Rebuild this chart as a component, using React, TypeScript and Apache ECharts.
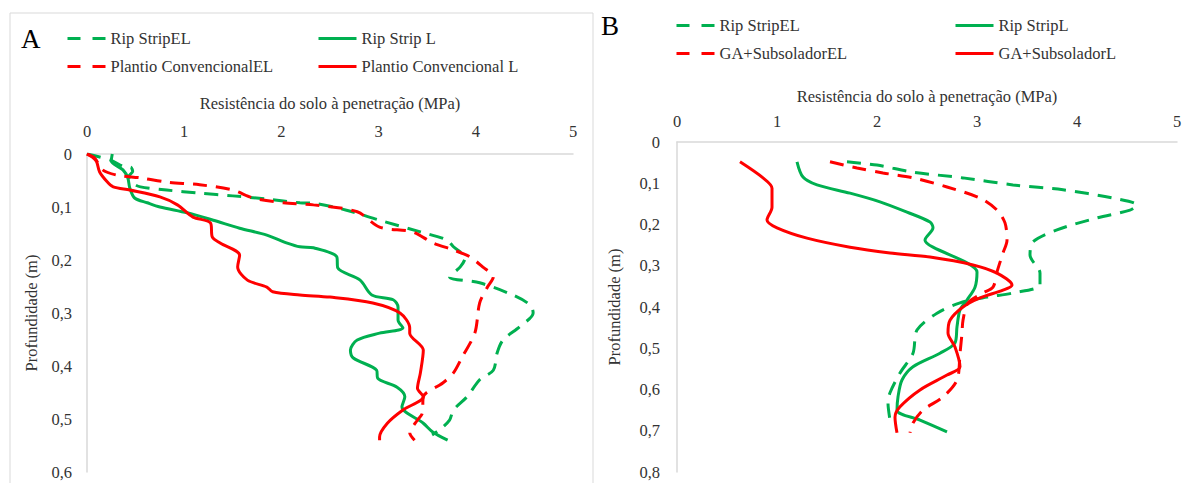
import React, { useEffect, useRef } from "react";
import * as echarts from "echarts";

// Panel A series: [resistance (MPa), depth (m)]
const ripStripEL_A: [number, number][] = [
  [0, 0], [0.25, 0.012], [0.38, 0.024], [0.45, 0.025], [0.47, 0.033], [0.43, 0.042], [0.47, 0.055],
  [0.55, 0.062], [0.82, 0.068], [1.16, 0.074], [1.5, 0.079], [1.85, 0.085], [2.19, 0.092], [2.33, 0.093],
  [2.67, 0.106], [3.01, 0.125], [3.43, 0.147], [3.7, 0.162], [3.77, 0.175], [3.89, 0.196], [3.84, 0.213],
  [3.73, 0.232], [4.04, 0.243], [4.38, 0.266], [4.56, 0.285], [4.59, 0.3], [4.45, 0.326], [4.28, 0.351],
  [4.22, 0.375], [4.18, 0.408], [4.04, 0.426], [3.91, 0.458], [3.77, 0.483], [3.73, 0.502], [3.63, 0.52],
  [3.55, 0.53],
];
const ripStripL_A: [number, number][] = [
  [0.26, 0], [0.25, 0.013], [0.37, 0.03], [0.42, 0.045], [0.44, 0.064], [0.49, 0.083], [0.62, 0.092],
  [0.75, 0.1], [1.03, 0.111], [1.3, 0.125], [1.57, 0.14], [1.85, 0.153], [2.06, 0.168], [2.19, 0.175],
  [2.33, 0.177], [2.57, 0.194], [2.58, 0.215], [2.81, 0.238], [2.93, 0.266], [3.15, 0.275], [3.2, 0.289],
  [3.2, 0.313], [3.25, 0.328], [3.01, 0.338], [2.78, 0.351], [2.71, 0.37], [2.74, 0.385], [2.98, 0.408],
  [2.99, 0.423], [3.19, 0.44], [3.27, 0.458], [3.24, 0.477], [3.46, 0.508], [3.56, 0.525], [3.71, 0.54],
];
const convEL_A: [number, number][] = [
  [0, 0], [0.08, 0.008], [0.16, 0.03], [0.31, 0.04], [0.55, 0.045], [0.82, 0.053], [1.16, 0.058],
  [1.5, 0.068], [1.71, 0.083], [2.02, 0.092], [2.33, 0.096], [2.78, 0.109], [3.01, 0.138], [3.35, 0.147],
  [3.56, 0.168], [3.77, 0.181], [3.94, 0.194], [4.07, 0.213], [4.18, 0.232], [4.12, 0.251], [4.04, 0.281],
  [3.99, 0.338], [3.86, 0.383], [3.77, 0.413], [3.66, 0.432], [3.46, 0.458], [3.45, 0.489], [3.4, 0.502],
  [3.32, 0.526], [3.37, 0.54],
];
const convL_A: [number, number][] = [
  [0, 0], [0.07, 0.008], [0.1, 0.015], [0.13, 0.034], [0.21, 0.053], [0.27, 0.062], [0.44, 0.068],
  [0.75, 0.081], [0.93, 0.096], [1.09, 0.119], [1.27, 0.13], [1.29, 0.157], [1.37, 0.168], [1.57, 0.191],
  [1.55, 0.213], [1.65, 0.238], [1.85, 0.251], [1.91, 0.26], [2.19, 0.266], [2.5, 0.27], [2.94, 0.281],
  [3.22, 0.3], [3.32, 0.328], [3.32, 0.338], [3.46, 0.37], [3.43, 0.413], [3.4, 0.442], [3.46, 0.458],
  [3.25, 0.483], [3.09, 0.508], [3.01, 0.534], [3.01, 0.54],
];

// Panel B series
const ripStripEL_B: [number, number][] = [
  [1.7, 0.048], [2.0, 0.056], [2.36, 0.073], [2.86, 0.087], [3.36, 0.104], [3.86, 0.116], [4.36, 0.136],
  [4.6, 0.153], [4.53, 0.165], [4.2, 0.184], [3.8, 0.213], [3.56, 0.242], [3.53, 0.274], [3.63, 0.318],
  [3.63, 0.347], [3.36, 0.366], [3.1, 0.376], [2.83, 0.39], [2.6, 0.415], [2.4, 0.456], [2.36, 0.512],
  [2.23, 0.56], [2.13, 0.608], [2.11, 0.633], [2.13, 0.674],
];
const ripStripL_B: [number, number][] = [
  [1.2, 0.048], [1.26, 0.085], [1.4, 0.104], [1.73, 0.124], [2.03, 0.145], [2.3, 0.17], [2.53, 0.194],
  [2.56, 0.208], [2.48, 0.238], [2.56, 0.255], [2.9, 0.293], [3.0, 0.315], [2.98, 0.352], [2.9, 0.383],
  [2.83, 0.407], [2.8, 0.448], [2.78, 0.487], [2.63, 0.512], [2.36, 0.545], [2.25, 0.577], [2.21, 0.618],
  [2.2, 0.65], [2.43, 0.674], [2.7, 0.703],
];
const gaSubEL_B: [number, number][] = [
  [1.53, 0.048], [1.8, 0.063], [2.06, 0.075], [2.36, 0.087], [2.7, 0.109], [3.03, 0.136], [3.2, 0.165],
  [3.28, 0.196], [3.3, 0.238], [3.26, 0.269], [3.2, 0.315], [3.16, 0.352], [3.06, 0.366], [2.91, 0.39],
  [2.86, 0.432], [2.85, 0.463], [2.83, 0.512], [2.8, 0.577], [2.66, 0.618], [2.46, 0.65], [2.36, 0.681],
  [2.33, 0.705],
];
const gaSubL_B: [number, number][] = [
  [0.63, 0.048], [0.86, 0.087], [0.95, 0.112], [0.95, 0.158], [0.9, 0.189], [1.0, 0.208], [1.3, 0.233],
  [1.73, 0.255], [2.13, 0.269], [2.53, 0.279], [2.96, 0.298], [3.2, 0.318], [3.35, 0.347], [3.26, 0.359],
  [3.03, 0.378], [2.86, 0.4], [2.73, 0.432], [2.71, 0.463], [2.78, 0.497], [2.83, 0.545], [2.7, 0.565],
  [2.43, 0.601], [2.23, 0.642], [2.18, 0.667], [2.2, 0.705],
];

const namesA = ["Rip StripEL", "Rip Strip L", "Plantio ConvencionalEL", "Plantio Convencional L"];
const namesB = ["Rip StripEL", "Rip StripL", "GA+SubsoladorEL", "GA+SubsoladorL"];
const xTitle = "Resistência do solo à penetração (MPa)";
const yTitle = "Profundidade (m)";

const GREEN = "#00b050";
const RED = "#ff0000";
const FONT = "Liberation Serif";
const TXT = "#333333";
const AXIS = "#d9d9d9";
const DASH = [14, 9];

export default function App() {
  const ref = useRef<HTMLDivElement>(null);
  useEffect(() => {
    if (!ref.current) return;
    const chart = echarts.init(ref.current, undefined, { renderer: "svg" });
    const fmtY = (v: number) => (v === 0 ? "0" : v.toFixed(1).replace(".", ","));
    const txt = { fontFamily: FONT, fontSize: 16.5, color: TXT };
    const xAxis = (gi: number, margin: number, nameGap: number) => ({
      type: "value",
      gridIndex: gi,
      position: "top",
      min: 0,
      max: 5,
      interval: 1,
      name: xTitle,
      nameLocation: "middle",
      nameGap,
      nameTextStyle: { ...txt },
      axisLine: { show: true, lineStyle: { color: AXIS, width: 1.5 } },
      axisTick: { show: false },
      splitLine: { show: false },
      axisLabel: { ...txt, margin },
    });
    const yAxis = (gi: number, max: number, margin: number, nameGap: number) => ({
      type: "value",
      gridIndex: gi,
      inverse: true,
      min: 0,
      max,
      interval: 0.1,
      name: yTitle,
      nameLocation: "middle",
      nameRotate: 90,
      nameGap,
      nameTextStyle: { ...txt },
      axisLine: { show: true, lineStyle: { color: AXIS, width: 1.5 } },
      axisTick: { show: false },
      splitLine: { show: false },
      axisLabel: { ...txt, margin, formatter: fmtY },
    });
    const mk = (name: string, data: [number, number][], color: string, dashed: boolean, gi: number) => ({
      type: "line",
      name,
      data,
      xAxisIndex: gi,
      yAxisIndex: gi,
      symbol: "none",
      showSymbol: false,
      smooth: 0.3,
      itemStyle: { color },
      lineStyle: { color, width: 3, type: dashed ? DASH : "solid" },
      emphasis: { disabled: true },
    });
    const legendItem = (name: string, dashed: boolean) => ({
      name,
      itemStyle: { opacity: 0 },
      lineStyle: { width: 3, opacity: 1, type: dashed ? [13, 12] : "solid" },
      textStyle: { ...txt },
    });
    const legend = (left: number, top: number, items: any[]) => ({
      left,
      top,
      padding: 0,
      orient: "vertical",
      itemWidth: 38,
      itemHeight: 14,
      itemGap: 11,
      selectedMode: false,
      textStyle: { ...txt },
      data: items,
    });
    chart.setOption({
      animation: false,
      backgroundColor: "#ffffff",
      textStyle: { fontFamily: FONT },
      grid: [
        { left: 87, top: 154, width: 486, height: 318 },
        { left: 677, top: 142, width: 500, height: 330 },
      ],
      xAxis: [xAxis(0, 14, 42), xAxis(1, 12, 37)],
      yAxis: [yAxis(0, 0.6, 15, 47), yAxis(1, 0.8, 17, 54)],
      legend: [
        legend(66, 30, [legendItem(namesA[0], true), legendItem(namesA[2], true)]),
        legend(317, 30, [legendItem(namesA[1], false), legendItem(namesA[3], false)]),
        legend(675, 17, [legendItem(namesB[0], true), legendItem(namesB[2], true)]),
        legend(954, 17, [legendItem(namesB[1], false), legendItem(namesB[3], false)]),
      ],
      graphic: [
        {
          type: "rect",
          shape: { x: 10, y: 13, width: 583, height: 490 },
          style: { fill: "none", stroke: AXIS, lineWidth: 1 },
          silent: true,
        },
        {
          type: "text",
          left: 21,
          top: 25,
          style: { text: "A", fontFamily: FONT, fontSize: 27, fill: "#000" },
        },
        {
          type: "text",
          left: 601,
          top: 12,
          style: { text: "B", fontFamily: FONT, fontSize: 27, fill: "#000" },
        },
      ],
      series: [
        mk(namesA[0], ripStripEL_A, GREEN, true, 0),
        mk(namesA[1], ripStripL_A, GREEN, false, 0),
        mk(namesA[2], convEL_A, RED, true, 0),
        mk(namesA[3], convL_A, RED, false, 0),
        mk(namesB[0], ripStripEL_B, GREEN, true, 1),
        mk(namesB[1], ripStripL_B, GREEN, false, 1),
        mk(namesB[2], gaSubEL_B, RED, true, 1),
        mk(namesB[3], gaSubL_B, RED, false, 1),
      ],
    });
    return () => chart.dispose();
  }, []);
  return (
    <div
      ref={ref}
      style={{ position: "fixed", left: 0, top: 0, width: 1185, height: 483, background: "#fff" }}
    />
  );
}
